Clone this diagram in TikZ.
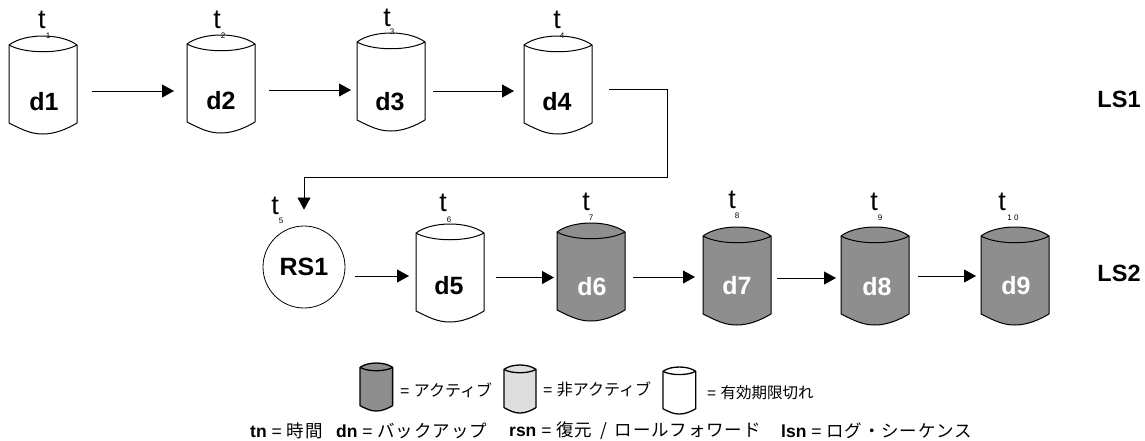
\documentclass[tikz,border=0pt]{standalone}
\usepackage{fontspec}
\setmainfont{Liberation Sans}
\newfontfamily\cjk{Noto Sans CJK JP}
\newfontfamily\cjkwide[LetterSpace=5]{Noto Sans CJK JP}
\usetikzlibrary{arrows.meta,positioning}
\definecolor{active}{HTML}{8E8E8E}
\definecolor{inactive}{HTML}{DEDEDE}
\tikzset{
	flow/.style={-{Triangle[length=12pt,width=13pt]},line width=0.8pt},
	gaps/.style 2 args={shorten <=#1pt,shorten >=#2pt},
	diskbox/.style={inner sep=0pt,outer sep=0pt},
	diskname/.style={font=\fontsize{25}{25}\selectfont\bfseries},
	timename/.style={font=\fontsize{27}{27}\selectfont,inner sep=0pt},
	timeidx/.style={font=\fontsize{8}{8}\selectfont,inner sep=0pt},
	logname/.style={font=\fontsize{23.5}{24}\selectfont\bfseries},
	legendtext/.style={font=\fontsize{16}{17}\selectfont,anchor=west,inner sep=0pt},
	keytext/.style={font=\fontsize{17.5}{18}\selectfont,anchor=west,inner sep=0pt}
}
\newcommand{\bb}[1]{\textbf{#1}}
% name, left, top, x scale, y scale, fill, line width
\newcommand{\dbdisk}[7]{
	\begin{scope}[shift={(#2,#3)},xscale=#4,yscale=#5]
		\draw[fill=#6,line width=#7,line join=round] (0,9) -- (0,87)
			.. controls (14,94) and (22,98) .. (34,98)
			.. controls (46,98) and (58,93) .. (68,87) -- (68,9)
			.. controls (52,-3) and (16,-3) .. (0,9) -- cycle;
		\draw[line width=#7] (0,9) .. controls (16,18) and (52,18) .. (68,9);
	\end{scope}
	\node[diskbox,minimum width=68pt*#4,minimum height=98pt*#5] (#1) at ({#2+34*#4},{#3+49*#5}) {};
}
\begin{document}
\begin{tikzpicture}[x=1pt,y=-1pt]
	\useasboundingbox (0,0) rectangle (1145,440);

	\dbdisk{d1}{9}{36}{1}{1}{white}{1pt}
	\dbdisk{d2}{187}{35}{1}{1}{white}{1pt}
	\dbdisk{d3}{357}{33}{1}{1}{white}{1pt}
	\dbdisk{d4}{524}{36}{1}{1}{white}{1pt}
	\dbdisk{d5}{416}{224}{1}{1}{white}{1pt}
	\dbdisk{d6}{557}{223}{1}{1}{active}{1pt}
	\dbdisk{d7}{703}{227}{1}{1}{active}{1pt}
	\dbdisk{d8}{841}{227}{1}{1}{active}{1pt}
	\dbdisk{d9}{981}{227}{1}{1}{active}{1pt}
	\node[circle,draw,line width=0.8pt,minimum size=82pt,inner sep=0pt,font=\fontsize{25}{25}\selectfont\bfseries] (RS1) at (304,267) {RS1};

	\node[diskname] at (44,102) {d1};
	\node[diskname] at (221,101) {d2};
	\node[diskname] at (390,102) {d3};
	\node[diskname] at (557,102) {d4};
	\node[diskname] at (449,286) {d5};
	\node[diskname,text=white] at (592,287) {d6};
	\node[diskname,text=white] at (737,286) {d7};
	\node[diskname,text=white] at (877,287) {d8};
	\node[diskname,text=white] at (1016,286) {d9};

	\node[timename] at (42,20) {t};
	\node[timeidx] at (48,36) {1};
	\node[timename] at (217,20) {t};
	\node[timeidx] at (223,36) {2};
	\node[timename] at (387,18) {t};
	\node[timeidx] at (392,32) {3};
	\node[timename] at (557,20) {t};
	\node[timeidx] at (562,36) {4};
	\node[timename] at (275,206) {t};
	\node[timeidx] at (281,221) {5};
	\node[timename] at (443,203) {t};
	\node[timeidx] at (449,220) {6};
	\node[timename] at (586,202) {t};
	\node[timeidx] at (591,218) {7};
	\node[timename] at (732,200) {t};
	\node[timeidx] at (737,216) {8};
	\node[timename] at (874,202) {t};
	\node[timeidx] at (880,218) {9};
	\node[timename] at (1002,202) {t};
	\node[timeidx] at (1013,218) {1 0};

	\node[logname] at (1119,99) {LS1};
	\node[logname] at (1119,273) {LS2};

	\path[flow]
	([yshift=-6pt]d1.east) edge[gaps={15}{13}] ([yshift=-7pt]d2.west)
	([yshift=-6pt]d2.east) edge[gaps={14}{6}] ([yshift=-8pt]d3.west)
	([yshift=-9pt]d3.east) edge[gaps={8}{10}] ([yshift=-6pt]d4.west)
	([yshift=-9pt]RS1.east) edge[gaps={10}{7}] ([yshift=-3pt]d5.west)
	([yshift=-4.5pt]d5.east) edge[gaps={12}{3}] ([yshift=-5.5pt]d6.west)
	([yshift=-5pt]d6.east) edge[gaps={8}{8}] ([yshift=-1pt]d7.west)
	([yshift=-2pt]d7.east) edge[gaps={6}{5}] ([yshift=-2pt]d8.west)
	(d8.east) edge[gaps={9}{5}] (d9.west);

	\coordinate (bendr) at (667,177);
	\coordinate (bendl) at (304,177);
	\draw[flow,line width=0.6pt,gaps={17}{16}] ([yshift=-4pt]d4.east) -| (bendr) -- (bendl) -- (RS1.north);

	\dbdisk{keyactive}{360}{363}{0.48}{0.49}{active}{1.3pt}
	\dbdisk{keyinactive}{504}{365}{0.47}{0.49}{inactive}{1.3pt}
	\dbdisk{keyexpired}{663}{367}{0.48}{0.48}{white}{1.3pt}
	\node[legendtext] (activetext) at (400,390) {= {\cjk アクティブ}};
	\node[legendtext] (inactivetext) at (543,389) {= {\cjk 非アクティブ}};
	\node[legendtext,font=\fontsize{15.5}{16}\selectfont] (expiredtext) at (707,393) {= {\cjk 有効期限切れ}};

	\node[keytext] (tntext) at (250,431) {\bb{tn} = {\cjkwide 時間}};
	\node[keytext] (dntext) at (336,431) {\bb{dn} = {\cjkwide バックアップ}};
	\node[keytext] (rsntext) at (509,431) {\bb{rsn} = {\cjkwide 復元\hspace{3pt} / \hspace{3pt}ロールフォワード}};
	\node[keytext] (lsntext) at (781,431) {\bb{lsn} = {\cjkwide ログ・シーケンス}};
\end{tikzpicture}
\end{document}
